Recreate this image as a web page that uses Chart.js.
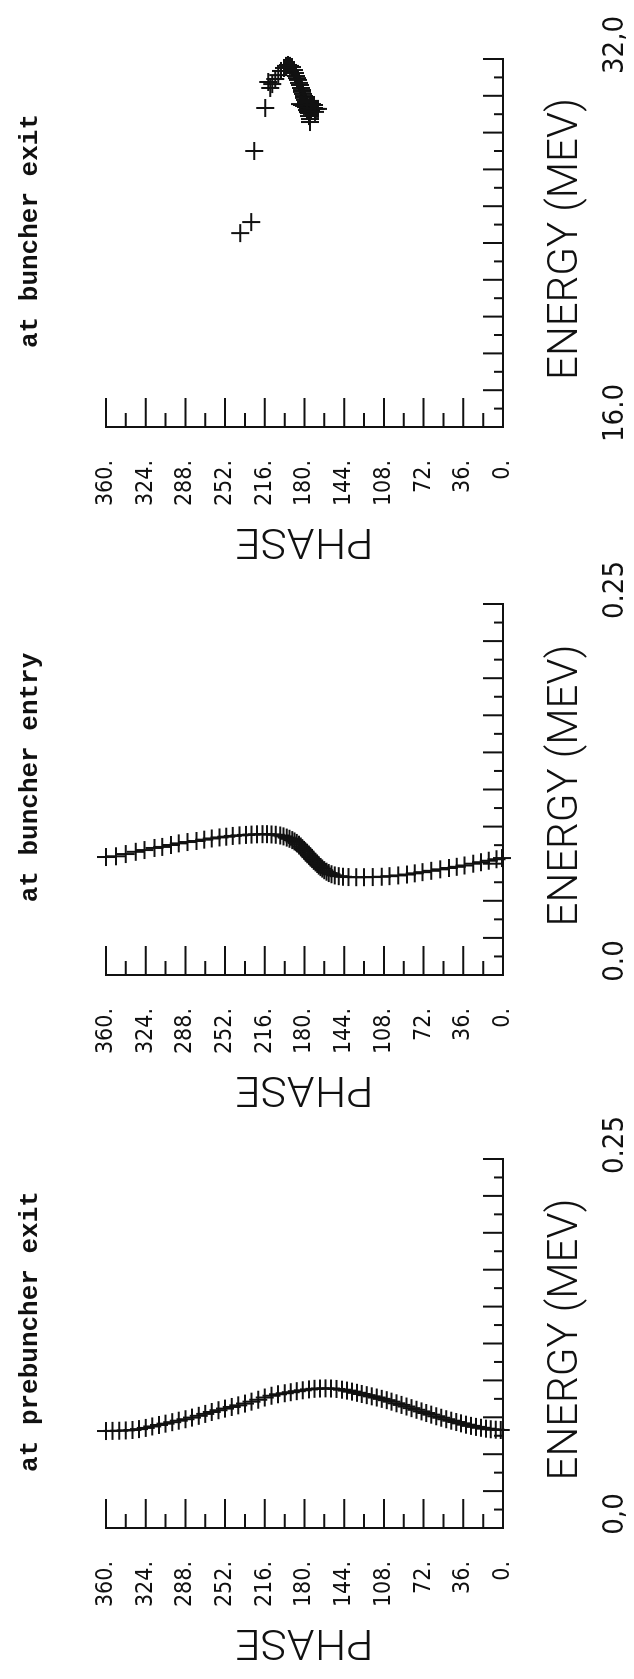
<!DOCTYPE html>
<html>
<head>
<meta charset="utf-8">
<script src="https://cdn.jsdelivr.net/npm/chart.js@4.4.1/dist/chart.umd.min.js"></script>
<style>
  html, body { margin: 0; padding: 0; background: #fff; }
  body { width: 634px; height: 1679px; overflow: hidden; position: relative; }
  /* the figure is laid out in landscape and turned a quarter turn */
  #sheet { position: absolute; left: 0; top: 0; width: 1679px; height: 634px;
           transform-origin: 0 0; transform: translate(0, 1679px) rotate(-90deg); }
  #sheet canvas { position: absolute; top: 0; }
</style>
</head>
<body>
<div id="sheet">
  <canvas id="c1" width="578" height="634" style="left:0px"></canvas>
  <canvas id="c2" width="578" height="634" style="left:553px"></canvas>
  <canvas id="c3" width="578" height="634" style="left:1101px"></canvas>
</div>
<script>
// panel titles and energy axes
const titles = ['at prebuncher exit', 'at buncher entry', 'at buncher exit'];
const energyMin = [0, 0, 16];
const energyMax = [0.25, 0.25, 32];
const energyEndLabels = [['0,0', '0.25'], ['0.0', '0.25'], ['16.0', '32,0']];

// at prebuncher exit: phase (deg), energy (MeV)
const preExitPhase = [360, 354, 348, 342, 336, 330, 324, 318, 312, 306, 300, 294, 288, 282, 276, 270, 264, 258, 252, 246,
  240, 234, 228, 222, 216, 210, 204, 198, 192.5, 187, 181.5, 176, 171, 166, 161, 156, 151, 146, 141.5, 137, 132.5, 128,
  123.5, 119, 114.5, 110, 105.5, 101, 96.5, 92, 87.5, 83, 78.5, 74, 69.5, 65, 60.5, 56, 51.5, 47, 42.5, 38, 33.5, 29,
  24.5, 20, 15.5, 11, 6.5, 2];
const preExitEnergy = [.0657, .0658, .0659, .0661, .0664, .0670, .0678, .0688, .0698, .0707, .0717, .0727, .0737, .0748,
  .0760, .0773, .0786, .0798, .0809, .0820, .0831, .0843, .0856, .0869, .0884, .0896, .0906, .0913, .0920, .0927, .0933,
  .0939, .0943, .0945, .0946, .0945, .0942, .0937, .0931, .0924, .0916, .0908, .0900, .0892, .0884, .0875, .0866, .0856,
  .0845, .0834, .0823, .0812, .0801, .0790, .0779, .0768, .0757, .0747, .0737, .0727, .0718, .0709, .0700, .0692, .0685,
  .0679, .0673, .0669, .0666, .0664];

// at buncher entry
const entryPhase = [360, 351, 342, 333, 325, 316, 309, 301, 294, 286, 278, 271, 264, 257, 251, 245, 239, 233, 228, 223,
  218, 214, 210, 206, 202, 199, 196, 193.5, 191, 189, 187, 185, 183.5, 182, 180.5, 179, 177.5, 176, 174.5, 173, 171.5,
  170, 168.5, 167, 165.5, 164, 162, 160, 158, 155.5, 152.5, 149, 145, 140, 133, 126, 118, 110, 103, 95, 87, 80, 73, 65,
  57, 49, 42, 35, 27, 20, 13, 6, 1];
const entryEnergy = [.0795, .0800, .0815, .0830, .0842, .0856, .0863, .0876, .0887, .0896, .0903, .0912, .0920, .0927,
  .0932, .0937, .0941, .0944, .0946, .0948, .0949, .0949, .0947, .0945, .0940, .0934, .0926, .0918, .0909, .0900, .0890,
  .0878, .0866, .0855, .0843, .0831, .0818, .0806, .0794, .0782, .0770, .0759, .0748, .0737, .0727, .0717, .0706, .0696,
  .0687, .0679, .0671, .0666, .0662, .0660, .0659, .0659, .0660, .0662, .0666, .0671, .0677, .0685, .0693, .0702, .0712,
  .0721, .0729, .0738, .0750, .0760, .0770, .0780, .0788];

// at buncher exit
const exitPhase = [238.2, 228.3, 225.6, 215.6, 212.9, 211.1, 209.3, 206.6, 203.9, 201.2, 198.5, 196.7, 194.9, 193.1,
  191.3, 189.5, 188.6, 187.7, 186.8, 185.9, 185.0, 184.1, 183.2, 182.3, 182.3, 181.4, 180.5, 180.5, 179.6, 178.7, 178.7,
  177.8, 176.9, 176.9, 176.0, 176.0, 175.0, 175.0, 184.1, 182.3, 180.5, 178.7, 175.0, 173.2, 171.4, 169.6, 167.8, 173.2,
  171.4, 177.8, 174.1, 170.5];
const exitEnergy = [24.43, 24.91, 28.00, 29.87, 31.00, 30.74, 30.91, 31.13, 31.30, 31.48, 31.61, 31.70, 31.74, 31.70,
  31.65, 31.52, 31.39, 31.26, 31.17, 31.09, 30.96, 30.87, 30.74, 30.65, 30.57, 30.48, 30.39, 30.31, 30.22, 30.13, 30.04,
  29.96, 29.87, 29.78, 29.65, 29.52, 29.39, 29.26, 30.04, 30.00, 29.96, 29.91, 29.91, 29.87, 29.87, 29.83, 29.83, 30.04,
  30.00, 29.78, 29.74, 29.70];

const ink = '#111';
const plotFont = "'DejaVu Sans Condensed', 'DejaVu Sans', sans-serif";
const thinFont = "Roboto, Lato, 'DejaVu Sans', sans-serif";

// squeeze a string to a given width, like the narrow plotter lettering
function plotterText(ctx, text, cx, cy, width, rot) {
  ctx.save();
  ctx.translate(cx, cy);
  ctx.rotate(rot);
  const w = ctx.measureText(text).width;
  ctx.scale(width / w, 1);
  ctx.fillText(text, 0, 0);
  ctx.restore();
}

// inward tick marks + lettering
const plotter = {
  id: 'plotter',
  afterDraw(chart, args, opts) {
    const {ctx, chartArea: a, scales: {x, y}} = chart;
    ctx.save();
    ctx.strokeStyle = ink;
    ctx.lineWidth = 2;
    ctx.beginPath();
    for (let v = 0; v <= 360; v += 18) {
      const py = y.getPixelForValue(v);
      const len = v % 36 === 0 ? 29 : 14;
      ctx.moveTo(a.left, py);
      ctx.lineTo(a.left + len, py);
    }
    const step = (x.max - x.min) / 20;
    for (let i = 0; i <= 20; i++) {
      const px = x.getPixelForValue(x.min + i * step);
      const len = i % 2 === 0 ? 20 : 9;
      ctx.moveTo(px, a.bottom);
      ctx.lineTo(px, a.bottom - len);
    }
    ctx.stroke();

    ctx.fillStyle = ink;
    ctx.textAlign = 'center';
    ctx.textBaseline = 'alphabetic';
    ctx.font = "bold 26px 'Liberation Mono', 'DejaVu Sans Mono', monospace";
    ctx.fillText(opts.title, (a.left + a.right) / 2 + 12, 37);

    ctx.font = '300 43px ' + thinFont;
    plotterText(ctx, 'ENERGY (MEV)', (a.left + a.right) / 2 + 4, 577, 282, 0);
    plotterText(ctx, 'PHASE', 49, (a.top + a.bottom) / 2, 138, -Math.PI / 2);
    ctx.restore();
  }
};

function makePanel(id, idx, phase, energy, plotWidth) {
  const pts = phase.map((p, i) => ({x: energy[i], y: p}));
  const ends = energyEndLabels[idx];
  new Chart(document.getElementById(id), {
    type: 'scatter',
    data: {
      datasets: [{
        data: pts,
        pointStyle: 'cross',
        pointRadius: 9,
        pointBorderWidth: 2,
        borderColor: ink,
        backgroundColor: ink,
        clip: false
      }]
    },
    options: {
      responsive: false,
      animation: false,
      events: [],
      layout: {padding: {left: 0, top: 106, bottom: 0, right: 578 - 151 - plotWidth}},
      plugins: {
        legend: {display: false},
        tooltip: {enabled: false},
        plotter: {title: titles[idx]}
      },
      scales: {
        x: {
          type: 'linear',
          min: energyMin[idx],
          max: energyMax[idx],
          afterFit(s) { s.height = 131; s.paddingLeft = 0; s.paddingRight = 0; },
          grid: {display: false},
          border: {display: true, color: ink, width: 2},
          ticks: {
            stepSize: energyMax[idx] - energyMin[idx],
            autoSkip: false,
            maxRotation: 0,
            padding: 87,
            labelOffset: 14,
            color: ink,
            font: {family: plotFont, size: 29},
            callback: (v, i, t) => i === 0 ? ends[0] : (i === t.length - 1 ? ends[1] : '')
          }
        },
        y: {
          type: 'linear',
          min: 0,
          max: 360,
          afterFit(s) { s.width = 151; s.paddingTop = 0; s.paddingBottom = 0; },
          grid: {display: false},
          border: {display: true, color: ink, width: 2},
          ticks: {
            stepSize: 36,
            padding: 25,
            color: ink,
            font: {family: plotFont, size: 23},
            callback: v => v + '.'
          }
        }
      }
    },
    plugins: [plotter]
  });
}

makePanel('c1', 0, preExitPhase, preExitEnergy, 369);
makePanel('c2', 1, entryPhase, entryEnergy, 371);
makePanel('c3', 2, exitPhase, exitEnergy, 368);
</script>
</body>
</html>
